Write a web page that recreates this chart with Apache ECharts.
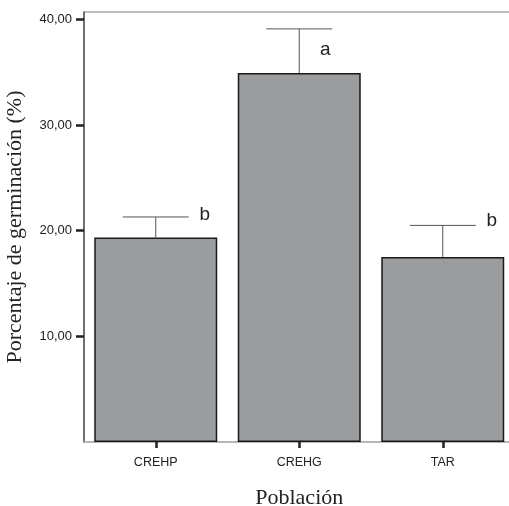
<!DOCTYPE html>
<html>
<head>
<meta charset="utf-8">
<script src="https://cdn.jsdelivr.net/npm/echarts@6/dist/echarts.min.js"></script>
<style>
html,body{margin:0;padding:0;background:#fff;}
#chart{width:509px;height:506px;}
</style>
</head>
<body>
<div id="chart"></div>
<script>
const categories = ['CREHP', 'CREHG', 'TAR'];
const means = [19.36, 34.92, 17.52];
const errorTops = [21.3, 39.1, 20.5];
const letters = ['b', 'a', 'b'];
const yTickValues = [10, 20, 30, 40];

// style-only offsets of the significance letters (pixels from cap centre)
const letterOffsets = [[49, -2], [26, 21], [49, -5]];

const chart = echarts.init(document.getElementById('chart'), null, {renderer: 'canvas'});

const option = {
  animation: false,
  backgroundColor: '#ffffff',
  grid: {
    left: 84, top: 12, width: 430.5, height: 430,
    outerBoundsMode: 'none',
    containLabel: false,
    show: true, borderColor: '#aaaaaa', borderWidth: 1.5, backgroundColor: 'transparent'
  },
  xAxis: {
    type: 'category',
    data: categories,
    name: 'Población',
    nameLocation: 'middle',
    nameGap: 45,
    nameTextStyle: {fontFamily: 'Liberation Serif', fontSize: 22, color: '#222'},
    axisLine: {show: true, lineStyle: {color: '#b5b5b5', width: 1.5}},
    axisTick: {show: true, alignWithLabel: true, length: 6, lineStyle: {color: '#222', width: 2.5}},
    axisLabel: {margin: 14, fontFamily: 'Liberation Sans', fontSize: 12.5, color: '#222'},
    splitLine: {show: false}
  },
  yAxis: {
    type: 'value',
    min: 0,
    max: 40.7,
    interval: 10,
    name: 'Porcentaje de germinación (%)',
    nameLocation: 'middle',
    nameGap: 58,
    nameRotate: 90,
    nameTextStyle: {fontFamily: 'Liberation Serif', fontSize: 22, color: '#222'},
    axisLine: {show: true, lineStyle: {color: '#555', width: 1.5}},
    axisTick: {show: true, length: 8, customValues: yTickValues, lineStyle: {color: '#222', width: 2.5}},
    axisLabel: {
      margin: 12, fontFamily: 'Liberation Sans', fontSize: 13, color: '#222',
      customValues: yTickValues,
      formatter: v => v.toFixed(2).replace('.', ',')
    },
    splitLine: {show: false}
  },
  series: [
    {
      type: 'bar',
      data: means,
      barCategoryGap: '14.3%',
      itemStyle: {color: '#9b9c9e', borderColor: '#1a1a1a', borderWidth: 1.5},
      z: 2
    },
    {
      type: 'custom',
      z: 3,
      data: categories.map((c, i) => [i, means[i], errorTops[i]]),
      renderItem: function (params, api) {
        const i = api.value(0);
        const base = api.coord([i, api.value(1)]);
        const top = api.coord([i, api.value(2)]);
        const cap = 33;
        const off = letterOffsets[params.dataIndex];
        return {
          type: 'group',
          children: [
            {type: 'line', shape: {x1: base[0], y1: base[1], x2: top[0], y2: top[1]},
             style: {stroke: '#555', lineWidth: 1}},
            {type: 'line', shape: {x1: top[0] - cap, y1: top[1], x2: top[0] + cap, y2: top[1]},
             style: {stroke: '#555', lineWidth: 1}},
            {type: 'text', x: top[0] + off[0], y: top[1] + off[1],
             style: {text: letters[params.dataIndex], fill: '#222', font: '19px "Liberation Sans"',
                     align: 'center', verticalAlign: 'middle'}}
          ]
        };
      }
    }
  ]
};
chart.setOption(option);
</script>
</body>
</html>
